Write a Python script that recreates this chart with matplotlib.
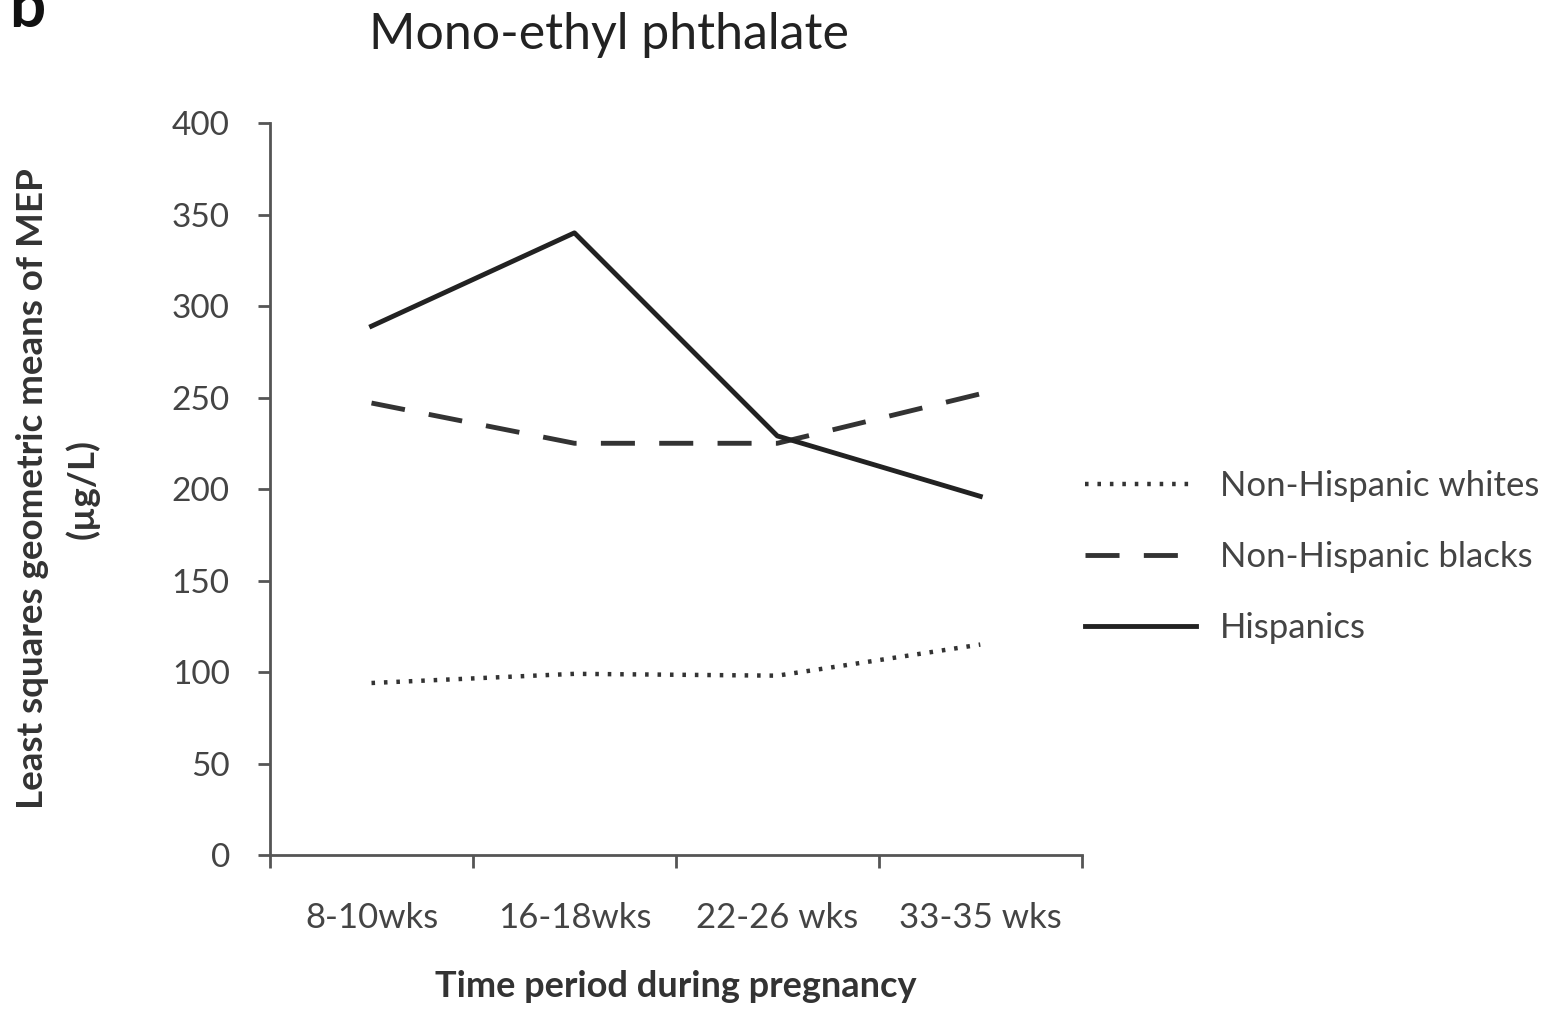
import numpy as np
import matplotlib.pyplot as plt
from matplotlib.ticker import FixedLocator

periods = ['8-10wks', '16-18wks', '22-26 wks', '33-35 wks']
whites = [94, 99, 98, 115]
blacks = [247, 225, 225, 252]
hispanics = [289, 340, 229, 196]

plt.rcParams['font.family'] = ['Lato', 'DejaVu Sans']

fig = plt.figure(figsize=(15.52, 10.17), dpi=100)
ax = fig.add_axes([0.174, 0.1593, 0.523, 0.7197])

x = np.arange(len(periods))
ax.plot(x, whites, color='#333333', lw=3.2, linestyle=(0, (0.8, 2.0)),
        dash_capstyle='butt', label='Non-Hispanic whites')
ax.plot(x, blacks, color='#333333', lw=3.5, linestyle=(0, (7, 5)),
        label='Non-Hispanic blacks')
ax.plot(x, hispanics, color='#222222', lw=3.5, label='Hispanics')

ax.set_xlim(-0.5, 3.5)
ax.set_ylim(0, 400)
ax.set_yticks(np.arange(0, 401, 50))
ax.set_xticks(x)
ax.set_xticklabels(periods)
ax.xaxis.set_minor_locator(FixedLocator([-0.5, 0.5, 1.5, 2.5, 3.5]))
ax.tick_params(axis='x', which='major', length=0, pad=34, labelsize=25, labelcolor='#444444')
ax.tick_params(axis='x', which='minor', length=9, width=2, color='#555555')
ax.tick_params(axis='y', length=9, width=2, color='#555555', pad=20,
               labelsize=24, labelcolor='#444444')

for side in ['top', 'right']:
    ax.spines[side].set_visible(False)
for side in ['left', 'bottom']:
    ax.spines[side].set_linewidth(2)
    ax.spines[side].set_color('#555555')

ax.set_xlabel('Time period during pregnancy', fontsize=26, fontweight='bold',
              color='#333333', labelpad=26)
ax.set_ylabel('Least squares geometric means of MEP\n(µg/L)', fontsize=26.5,
              fontweight='bold', color='#333333', labelpad=52, linespacing=1.55)
fig.text(0.238, 0.966, 'Mono-ethyl phthalate', fontsize=36, color='#222222',
         va='center', ha='left')
fig.text(0.006, 0.992, 'b', fontsize=46, fontweight='bold', color='#111111',
         va='center', ha='left')

ax.legend(loc='center left', bbox_to_anchor=(0.699, 0.452), bbox_transform=fig.transFigure,
          frameon=False, fontsize=25, handlelength=3.2, handletextpad=0.7,
          labelspacing=1.12, borderpad=0, borderaxespad=0, labelcolor='#444444')

fig.savefig('out.png', dpi=100, facecolor='white')
